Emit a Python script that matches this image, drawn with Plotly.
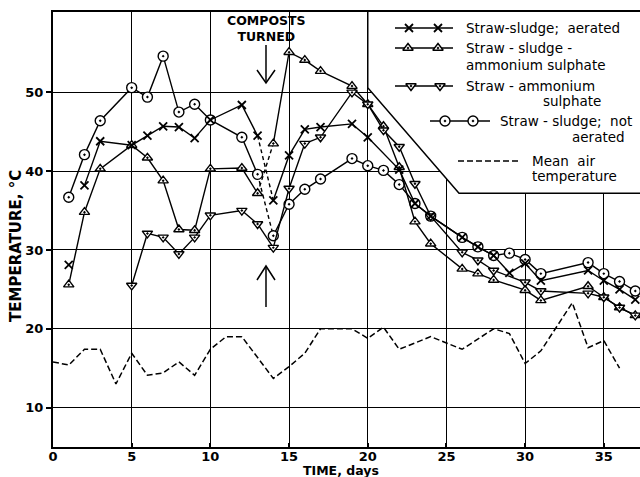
import plotly.graph_objects as go

# ---------------- data ----------------
days_aer = [1, 2, 3, 5, 6, 7, 8, 9, 10, 12, 13, 14, 15, 16, 17, 19, 20, 22, 23, 24,
            26, 27, 28, 29, 30, 31, 34, 35, 36, 37]
temp_aer = [28.1, 38.2, 43.8, 43.3, 44.5, 45.7, 45.6, 44.2, 46.5, 48.4, 44.5, 36.3,
            42.0, 45.3, 45.6, 46.0, 44.3, 40.2, 35.9, 34.3, 31.6, 30.4, 29.3, 27.1,
            28.3, 26.1, 27.4, 26.1, 25.0, 23.7]

days_ssas = [1, 2, 3, 5, 6, 7, 8, 9, 10, 12, 13, 14, 15, 16, 17, 19, 20, 21, 22, 23,
             24, 26, 27, 28, 30, 31, 34, 35, 36, 37]
temp_ssas = [25.6, 34.8, 40.3, 43.3, 41.7, 38.8, 32.6, 32.5, 40.3, 40.4, 37.2, 43.5,
             55.1, 54.1, 52.7, 50.8, 48.5, 45.7, 40.5, 33.6, 30.8, 27.6, 27.0, 26.2,
             24.9, 23.6, 25.4, 24.0, 22.7, 21.7]

days_sas = [5, 6, 7, 8, 9, 10, 12, 13, 14, 15, 16, 17, 19, 20, 21, 22, 23, 24, 26, 27,
            28, 30, 31, 34, 35, 36, 37]
temp_sas = [25.5, 32.1, 31.6, 29.5, 31.6, 34.4, 35.0, 33.3, 30.3, 37.8, 43.5, 44.3,
            50.0, 48.5, 45.2, 43.1, 38.4, 34.3, 29.7, 28.7, 27.4, 25.9, 24.8, 24.5,
            24.0, 22.7, 21.7]

days_nae = [1, 2, 3, 5, 6, 7, 8, 9, 10, 12, 13, 14, 15, 16, 17, 19, 20, 21, 22, 23,
            24, 26, 27, 28, 29, 30, 31, 34, 35, 36, 37]
temp_nae = [36.7, 42.1, 46.4, 50.6, 49.4, 54.6, 47.5, 48.5, 46.5, 44.3, 39.6, 31.8,
            35.8, 37.7, 39.0, 41.6, 40.7, 40.1, 38.3, 35.9, 34.3, 31.6, 30.4, 29.3,
            29.6, 28.8, 27.0, 28.4, 27.0, 26.0, 24.8]

days_air = [0, 1, 2, 3, 4, 5, 6, 7, 8, 9, 10, 11, 12, 13, 14, 15, 16, 17, 18, 19, 20,
            21, 22, 24, 26, 28, 29, 30, 31, 33, 34, 35, 36]
temp_air = [15.8, 15.4, 17.4, 17.4, 13.0, 16.9, 14.1, 14.4, 15.8, 14.1, 17.4, 19.0,
            19.0, 16.4, 13.7, 15.2, 16.9, 20.0, 20.0, 20.0, 18.8, 20.2, 17.4, 19.0,
            17.4, 20.0, 19.4, 15.6, 17.2, 23.3, 17.6, 18.5, 15.0]

x_ticks = [0, 5, 10, 15, 20, 25, 30, 35]
y_ticks = [10, 20, 30, 40, 50]
turn_day, after_turn_day = 13, 14

FONT = "DejaVu Sans"
BLACK = "black"

# plot-area geometry (pixels) and axis ranges
W, H = 640, 477
L, R, T, B = 53, 0, 12, 30
X_RANGE = [0, 37.3]
Y_RANGE = [5, 60.2]
PW, PH = W - L - R, H - T - B


def px_to_paper(px, py):
    return (px - L) / PW, (H - B - py) / PH


def px_to_data(px, py):
    xp, yp = px_to_paper(px, py)
    return (X_RANGE[0] + xp * (X_RANGE[1] - X_RANGE[0]),
            Y_RANGE[0] + yp * (Y_RANGE[1] - Y_RANGE[0]))


fig = go.Figure()


def add_series(days, vals, symbol, size, line_start=0, dashed_turn=True, mlw=1.4):
    i0 = days.index(turn_day)
    i1 = days.index(after_turn_day)
    segs = [(line_start, i0 + 1, "solid"),
            (i0, i1 + 1, "4px,3px" if dashed_turn else "solid"),
            (i1, len(days), "solid")]
    for a, b, dash in segs:
        fig.add_trace(go.Scatter(x=days[a:b], y=vals[a:b], mode="lines",
                                 line=dict(color=BLACK, width=1.4, dash=dash),
                                 hoverinfo="skip", showlegend=False))
    fig.add_trace(go.Scatter(x=days, y=vals, mode="markers",
                             marker=dict(symbol=symbol, size=size, color="white",
                                         line=dict(color=BLACK, width=mlw)),
                             showlegend=False))


# mean air temperature
fig.add_trace(go.Scatter(x=days_air, y=temp_air, mode="lines",
                         line=dict(color=BLACK, width=1.5, dash="6px,3px"),
                         showlegend=False))
add_series(days_nae, temp_nae, "circle-dot", 10)
add_series(days_ssas, temp_ssas, "triangle-up-dot", 9)
add_series(days_sas, temp_sas, "triangle-down-dot", 9, dashed_turn=False)
add_series(days_aer, temp_aer, "x-thin", 8, line_start=1, mlw=1.8)

# ---------------- legend (sample positions given in pixels) ----------------
leg_rows = [
    dict(x0=395, x1=453, y=28, mk=[409, 438], sym="x-thin", size=8, dash="solid", mlw=1.8),
    dict(x0=395, x1=453, y=48, mk=[408, 438], sym="triangle-up-dot", size=9, dash="solid", mlw=1.4),
    dict(x0=395, x1=453, y=86, mk=[411, 440], sym="triangle-down-dot", size=9, dash="solid", mlw=1.4),
    dict(x0=430, x1=490, y=121, mk=[445, 473], sym="circle-dot", size=10, dash="solid", mlw=1.4),
    dict(x0=458, x1=519, y=161, mk=[], sym=None, size=0, dash="6px,3px", mlw=1.4),
]
for r in leg_rows:
    (ax0, ay), (ax1, _) = px_to_data(r["x0"], r["y"]), px_to_data(r["x1"], r["y"])
    fig.add_trace(go.Scatter(x=[ax0, ax1], y=[ay, ay], mode="lines",
                             line=dict(color=BLACK, width=1.4, dash=r["dash"]),
                             showlegend=False, hoverinfo="skip"))
    if r["mk"]:
        mx = [px_to_data(m, r["y"])[0] for m in r["mk"]]
        fig.add_trace(go.Scatter(x=mx, y=[ay] * len(mx), mode="markers",
                                 marker=dict(symbol=r["sym"], size=r["size"], color="white",
                                             line=dict(color=BLACK, width=r["mlw"])),
                                 showlegend=False, hoverinfo="skip"))

leg_texts = [
    ("Straw-sludge;  aerated", 464, 28, "left"),
    ("Straw - sludge -", 464, 48, "left"),
    ("ammonium sulphate", 464, 65, "left"),
    ("Straw - ammonium", 464, 86, "left"),
    ("sulphate", 603, 101, "right"),
    ("Straw - sludge;  not", 498, 121, "left"),
    ("aerated", 627, 137, "right"),
    ("Mean  air", 530, 161, "left"),
    ("temperature", 530, 176, "left"),
]


def ann(text, px, py, size=13, bold=False, anchor="center", angle=0):
    xp, yp = px_to_paper(px, py)
    f = dict(family=FONT, size=size, color=BLACK)
    if bold:
        f["weight"] = "bold"
    return dict(text=text, x=xp, y=yp, xref="paper", yref="paper", showarrow=False,
                xanchor=anchor, yanchor="middle", textangle=angle, font=f)


annotations = [ann(t, x, y, size=13.5, anchor=a) for t, x, y, a in leg_texts]
annotations += [
    ann("COMPOSTS<br>TURNED", 266, 28, size=12.5, bold=True),
    ann("TIME, days", 341, 470, size=12.5, bold=True),
    ann("TEMPERATURE, °C", 16, 246, size=15, bold=True, angle=-90),
]


def ppath(points):
    s = []
    for i, (px, py) in enumerate(points):
        xp, yp = px_to_paper(px, py)
        s.append(("M " if i == 0 else "L ") + f"{xp:.5f},{yp:.5f}")
    return " ".join(s)


shapes = [
    # legend box with diagonal cut
    dict(type="path", xref="x", yref="y", layer="between",
         path="M 20,62 L 20,50.6 L 25.8,37.2 L 39,37.2 L 39,62 Z",
         fillcolor="white", line=dict(color=BLACK, width=1.5)),
    # arrows (pixel positions)
    dict(type="path", xref="paper", yref="paper", path=ppath([(266, 45), (266, 82)]),
         line=dict(color=BLACK, width=1.5)),
    dict(type="path", xref="paper", yref="paper",
         path=ppath([(257, 70), (266, 83), (275, 70)]), line=dict(color=BLACK, width=1.5)),
    dict(type="path", xref="paper", yref="paper", path=ppath([(266, 307), (266, 266)]),
         line=dict(color=BLACK, width=1.5)),
    dict(type="path", xref="paper", yref="paper",
         path=ppath([(257, 280), (266, 266), (275, 280)]), line=dict(color=BLACK, width=1.5)),
]

tickfont = dict(family=FONT, size=13, color=BLACK, weight="bold")
fig.update_layout(
    width=W, height=H,
    margin=dict(l=L, r=R, t=T, b=B, pad=0),
    paper_bgcolor="white", plot_bgcolor="white",
    showlegend=False,
    xaxis=dict(range=X_RANGE, tickvals=x_ticks, showgrid=True, gridcolor=BLACK,
               gridwidth=1, showline=True, linecolor=BLACK, linewidth=2, mirror=True,
               ticks="inside", ticklen=4, tickwidth=2, tickcolor=BLACK,
               ticklabelstandoff=-4,
               tickfont=tickfont, zeroline=False, fixedrange=True),
    yaxis=dict(range=Y_RANGE, tickvals=y_ticks, showgrid=True, gridcolor=BLACK,
               gridwidth=1, showline=True, linecolor=BLACK, linewidth=2,
               ticks="outside", ticklen=5, tickwidth=2, tickcolor=BLACK,
               tickfont=tickfont, zeroline=False, fixedrange=True),
    annotations=annotations,
    shapes=shapes,
)

fig.write_html("out.html")
